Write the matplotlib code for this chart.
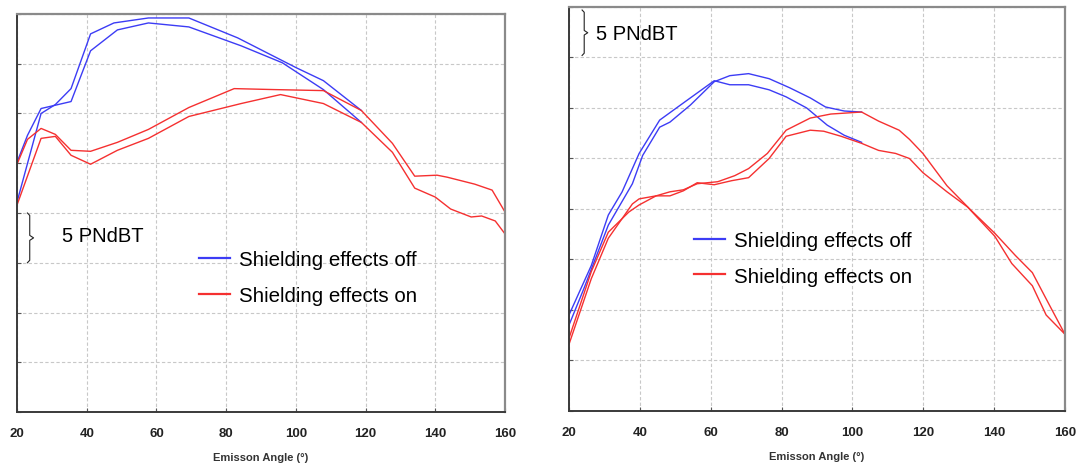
"""Shielding effects on emission-angle directivity, two configurations side by side."""

import matplotlib.pyplot as plt

# ---- left panel ----
L_OFF1_X = [20, 23.0, 26.9, 35.5, 41.1, 48.8, 57.7, 69.3, 84.3, 96.1, 107.9, 118.8]
L_OFF1_Y = [25.1, 27.8, 30.5, 31.2, 36.3, 38.4, 39.1, 38.7, 36.8, 35.1, 32.4, 29.1]
L_OFF2_X = [20, 26.9, 31.0, 35.5, 41.1, 47.8, 57.7, 69.3, 83.3, 100.1, 107.9, 118.8]
L_OFF2_Y = [21.1, 30.0, 30.9, 32.5, 38.0, 39.1, 39.6, 39.6, 37.6, 34.6, 33.3, 30.3]

L_ON1_X = [20, 23.0, 26.9, 31.0, 35.5, 41.1, 48.8, 57.7, 69.3, 82.3, 94.1, 107.9, 118.8,
           127.7, 134.1, 140.5, 143.4, 151.3, 156.3, 160]
L_ON1_Y = [24.9, 27.4, 28.5, 27.9, 26.3, 26.2, 27.1, 28.4, 30.6, 32.5, 32.4, 32.3, 30.3,
           27.0, 23.7, 23.8, 23.6, 22.9, 22.3, 20.1]
L_ON2_X = [20, 26.9, 31.0, 35.5, 41.1, 48.8, 57.7, 69.3, 84.3, 95.6, 107.9, 118.8,
           127.7, 134.1, 140.0, 144.4, 150.3, 153.3, 157.2, 160]
L_ON2_Y = [20.8, 27.5, 27.7, 25.8, 24.9, 26.3, 27.5, 29.7, 31.0, 31.9, 31.0, 29.1,
           26.1, 22.5, 21.6, 20.4, 19.6, 19.7, 19.2, 17.9]

# ---- right panel ----
R_OFF1_X = [20, 24.3, 31.1, 37.9, 40.8, 45.6, 48.5, 54.3, 61.0, 65.4, 70.7, 76.5, 82.3,
            88.1, 92.4, 97.7, 102.6]
R_OFF1_Y = [8.5, 12.2, 18.4, 22.5, 25.3, 28.1, 28.6, 30.3, 32.6, 33.2, 33.4, 32.9, 32.0,
            31.0, 30.1, 29.7, 29.6]
R_OFF2_X = [20, 26.3, 31.1, 35.0, 39.8, 45.6, 52.3, 61.0, 65.4, 70.7, 76.5, 81.3, 87.1,
            92.9, 97.7, 102.6]
R_OFF2_Y = [9.5, 14.4, 19.4, 21.7, 25.5, 28.8, 30.5, 32.7, 32.3, 32.3, 31.8, 31.1, 30.0,
            28.3, 27.3, 26.6]

R_ON1_X = [20, 26.3, 31.1, 37.9, 39.8, 44.6, 48.5, 52.3, 56.2, 62.0, 66.8, 70.7, 76.0,
           81.3, 88.1, 93.9, 102.6, 107.4, 113.2, 116.1, 119.9, 126.7, 133.4, 140.2,
           146.0, 150.8, 155.6, 160]
R_ON1_Y = [6.6, 13.1, 17.1, 20.5, 21.0, 21.3, 21.7, 21.9, 22.5, 22.7, 23.3, 24.0, 25.5,
           27.8, 29.0, 29.4, 29.6, 28.7, 27.8, 26.9, 25.5, 22.3, 19.9, 17.6,
           15.4, 13.7, 10.5, 7.6]
R_ON2_X = [20, 26.3, 31.1, 36.9, 39.8, 44.6, 48.5, 52.3, 56.2, 61.0, 65.9, 70.7, 76.5,
           81.3, 88.1, 91.9, 96.8, 102.6, 107.4, 112.2, 116.1, 119.9, 126.7, 132.5,
           140.2, 145.0, 150.8, 154.7, 160]
R_ON2_Y = [7.2, 13.8, 17.7, 19.7, 20.4, 21.3, 21.3, 21.8, 22.6, 22.4, 22.8, 23.1, 25.0,
           27.2, 27.8, 27.7, 27.2, 26.5, 25.8, 25.5, 25.0, 23.6, 21.7, 20.2,
           17.3, 14.6, 12.4, 9.5, 7.6]

X_TICKS = [20, 40, 60, 80, 100, 120, 140, 160]
Y_GRID = [0, 5, 10, 15, 20, 25, 30, 35, 40]

BLUE = "#3c3cf5"
RED = "#f53030"
FONT = "Liberation Sans"


def brace(ax, x, y0, y1, w):
    # thin curly bracket, opening to the left
    ym = (y0 + y1) / 2
    d = (y1 - y0) * 0.05
    xs = [x - w * 0.6, x, x, x + w, x, x, x - w * 0.6]
    ys = [y1, y1 - d, ym + d, ym, ym - d, y0 + d, y0]
    ax.plot(xs, ys, color="#222222", lw=0.8, solid_joinstyle="round")


def style(ax):
    ax.set_xlim(20, 160)
    ax.set_ylim(0, 40)
    ax.set_xticks(X_TICKS)
    ax.set_yticks(Y_GRID)
    ax.set_yticklabels([])
    ax.tick_params(axis="y", direction="in", length=3, color="#555555", width=0.8)
    ax.tick_params(axis="x", direction="in", length=3, color="#555555", width=0.8, pad=11)
    for lab in ax.get_xticklabels():
        lab.set_fontfamily(FONT)
        lab.set_fontweight("bold")
        lab.set_fontsize(9.5)
        lab.set_color("#222222")
    ax.grid(True, color="#c8c8c8", linestyle=(0, (3, 2)), linewidth=0.8)
    for side in ("left", "bottom"):
        ax.spines[side].set_color("#3a3a3a")
        ax.spines[side].set_linewidth(1.4)
    for side in ("top", "right"):
        ax.spines[side].set_color("#8a8a8a")
        ax.spines[side].set_linewidth(1.6)
    ax.set_xlabel("Emisson Angle (°)", fontfamily=FONT, fontweight="bold",
                  fontsize=8, color="#333333", labelpad=9)


fig = plt.figure(figsize=(10.77, 4.64), dpi=100)
ax1 = fig.add_axes([0.0158, 0.1099, 0.4531, 0.8578])
ax2 = fig.add_axes([0.5283, 0.1121, 0.4605, 0.8707])

lw = 1.0
ax1.plot(L_OFF1_X, L_OFF1_Y, color=BLUE, lw=lw, label="Shielding effects off")
ax1.plot(L_OFF2_X, L_OFF2_Y, color=BLUE, lw=lw)
ax1.plot(L_ON1_X, L_ON1_Y, color=RED, lw=lw, label="Shielding effects on")
ax1.plot(L_ON2_X, L_ON2_Y, color=RED, lw=lw)

ax2.plot(R_OFF1_X, R_OFF1_Y, color=BLUE, lw=lw, label="Shielding effects off")
ax2.plot(R_OFF2_X, R_OFF2_Y, color=BLUE, lw=lw)
ax2.plot(R_ON1_X, R_ON1_Y, color=RED, lw=lw, label="Shielding effects on")
ax2.plot(R_ON2_X, R_ON2_Y, color=RED, lw=lw)

for ax in (ax1, ax2):
    style(ax)

# scale bracket + label
brace(ax1, 23.65, 15, 20, 1.1)
ax1.text(33.0, 17.7, "5 PNdBT", fontfamily=FONT, fontsize=14.5, va="center", ha="left")
brace(ax2, 24.3, 35.2, 39.7, 1.0)
ax2.text(27.7, 37.4, "5 PNdBT", fontfamily=FONT, fontsize=14.5, va="center", ha="left")

leg_kw = dict(frameon=False, loc="upper left", borderpad=0, borderaxespad=0,
              handlelength=1.5, handletextpad=0.45, labelspacing=0.82,
              prop={"family": FONT, "size": 14.8})
lg1 = ax1.legend(bbox_to_anchor=(0.373, 0.406), **leg_kw)
lg2 = ax2.legend(bbox_to_anchor=(0.252, 0.446), **leg_kw)
for lg in (lg1, lg2):
    for h in lg.get_lines():
        h.set_linewidth(1.6)

fig.savefig("out.png", dpi=100)
